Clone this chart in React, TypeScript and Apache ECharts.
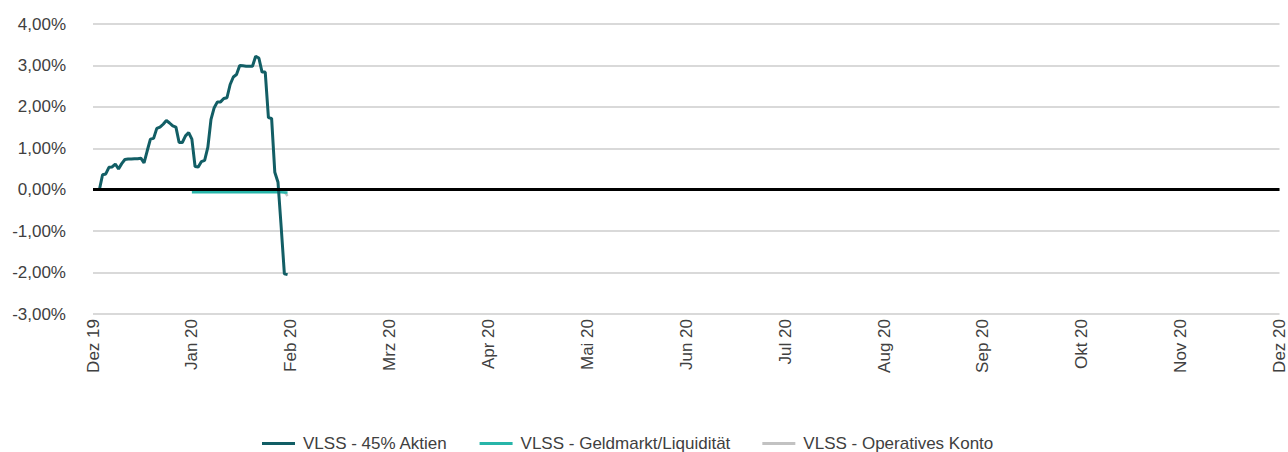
import React, { useEffect, useRef } from "react";
import * as echarts from "echarts";

const monthLabels = ["Dez 19", "Jan 20", "Feb 20", "Mrz 20", "Apr 20", "Mai 20", "Jun 20", "Jul 20", "Aug 20", "Sep 20", "Okt 20", "Nov 20", "Dez 20"];

const seriesNames = ["VLSS - 45% Aktien", "VLSS - Geldmarkt/Liquidität", "VLSS - Operatives Konto"];

// daily values, starting at the given date
const aktienStart = "2019-12-03";
const aktienValues = [
  0.0, 0.36, 0.38, 0.54, 0.55, 0.62, 0.5, 0.63, 0.73, 0.74, 0.74, 0.75, 0.75, 0.76, 0.65, 0.94, 1.22, 1.24, 1.48, 1.51,
  1.58, 1.67, 1.61, 1.54, 1.51, 1.14, 1.14, 1.3, 1.38,
  1.22, 0.56, 0.55, 0.68, 0.71, 1.02, 1.7, 1.98, 2.12, 2.12, 2.2, 2.22, 2.54, 2.72, 2.78, 3.0, 2.99, 2.98, 2.98, 2.98,
  3.22, 3.18, 2.84, 2.84, 1.74, 1.72, 0.42, 0.18, -0.9, -2.03, -2.05,
];

const geldmarktStart = "2020-01-01";
const geldmarktValues = [
  -0.06, -0.06, -0.06, -0.06, -0.06, -0.06, -0.06, -0.06, -0.06, -0.06, -0.06, -0.06, -0.06, -0.06, -0.06, -0.06,
  -0.06, -0.06, -0.06, -0.06, -0.06, -0.06, -0.06, -0.06, -0.06, -0.06, -0.06, -0.06, -0.06, -0.07, -0.07,
];

const kontoStart = "2020-01-01";
const kontoValues = [
  -0.01, -0.01, -0.01, -0.01, -0.01, -0.01, -0.01, -0.01, -0.01, -0.01, -0.01, -0.01, -0.01, -0.01, -0.01, -0.01,
  -0.01, -0.01, -0.01, -0.01, -0.01, -0.01, -0.01, -0.01, -0.01, -0.01, -0.01, -0.01, -0.02, -0.05, -0.15,
];

const colors = ["#125e65", "#27b5a9", "#c2c2c2"];

// Convert a date into month units from Dec 2019 (each month same width)
function monthPos(d: Date): number {
  const y = d.getUTCFullYear();
  const m = d.getUTCMonth();
  const idx = (y - 2019) * 12 + m - 11;
  const dim = new Date(Date.UTC(y, m + 1, 0)).getUTCDate();
  return idx + (d.getUTCDate() - 1) / dim;
}

function buildData(start: string, values: number[]): [number, number][] {
  const [y, m, d] = start.split("-").map(Number);
  return values.map((v, i) => {
    const dt = new Date(Date.UTC(y, m - 1, d + i));
    return [monthPos(dt), v];
  });
}

const FONT = "'Liberation Sans', Arial, sans-serif";

export default function App() {
  const ref = useRef<HTMLDivElement>(null);
  useEffect(() => {
    document.body.style.margin = "0";
    if (!ref.current) return;
    const chart = echarts.init(ref.current, null, { renderer: "svg" });
    chart.setOption({
      animation: false,
      backgroundColor: "#ffffff",
      textStyle: { fontFamily: FONT },
      grid: { left: 93, right: 7, top: 24, bottom: 138, containLabel: false },
      legend: {
        data: seriesNames,
        left: 257,
        top: 435,
        padding: [0, 5, 0, 5],
        icon: "rect",
        itemWidth: 33,
        itemHeight: 3,
        itemGap: 32,
        textStyle: { fontSize: 17, lineHeight: 17, color: "#404040", fontFamily: FONT, padding: [0, 0, 0, 3] },
      },
      xAxis: {
        type: "value",
        min: 0,
        max: 12,
        interval: 1,
        axisLine: { show: false },
        axisTick: { show: false },
        splitLine: { show: false },
        axisLabel: {
          rotate: 90,
          margin: 5,
          fontSize: 17,
          color: "#404040",
          fontFamily: FONT,
          showMinLabel: true,
          showMaxLabel: true,
          formatter: (v: number) => monthLabels[Math.round(v)] ?? "",
        },
      },
      yAxis: {
        type: "value",
        min: -3,
        max: 4,
        interval: 1,
        axisLine: { show: false },
        axisTick: { show: false },
        splitLine: { lineStyle: { color: "#d9d9d9", width: 2 } },
        axisLabel: {
          margin: 27,
          fontSize: 17,
          color: "#404040",
          fontFamily: FONT,
          formatter: (v: number) => v.toFixed(2).replace(".", ",") + "%",
        },
      },
      series: [
        {
          name: seriesNames[2],
          type: "line",
          data: buildData(kontoStart, kontoValues),
          symbol: "none",
          lineStyle: { color: colors[2], width: 2.5 },
          itemStyle: { color: colors[2] },
          z: 2,
        },
        {
          name: seriesNames[1],
          type: "line",
          data: buildData(geldmarktStart, geldmarktValues),
          symbol: "none",
          lineStyle: { color: colors[1], width: 2.5 },
          itemStyle: { color: colors[1] },
          z: 3,
        },
        {
          name: seriesNames[0],
          type: "line",
          data: buildData(aktienStart, aktienValues),
          symbol: "none",
          lineStyle: { color: colors[0], width: 3 },
          itemStyle: { color: colors[0] },
          z: 4,
          markLine: {
            silent: true,
            symbol: ["none", "none"],
            label: { show: false },
            lineStyle: { color: "#000000", width: 3, type: "solid" },
            data: [{ yAxis: 0 }],
          },
        },
      ],
    });
    return () => chart.dispose();
  }, []);
  return <div ref={ref} style={{ width: 1288, height: 452 }} />;
}
